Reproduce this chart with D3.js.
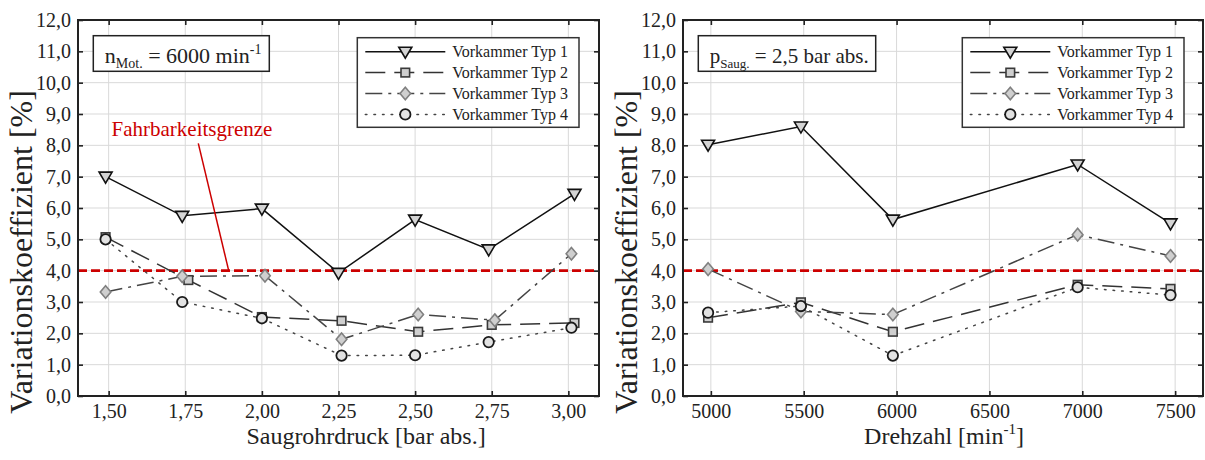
<!DOCTYPE html>
<html>
<head>
<meta charset="utf-8">
<script src="https://cdn.jsdelivr.net/npm/d3@7"></script>
<style>
  html, body { margin: 0; padding: 0; background: #fff; }
  svg { display: block; }
  text { font-family: "Liberation Serif", "Times New Roman", serif; fill: #222; }
</style>
</head>
<body>
<svg id="chart" width="1205" height="460"></svg>
<script>
// ---- data --------------------------------------------------------------
const seriesNames = ["Vorkammer Typ 1", "Vorkammer Typ 2", "Vorkammer Typ 3", "Vorkammer Typ 4"];

// Left panel: intake manifold pressure sweep at 6000 min^-1
const pressureTicks = [1.50, 1.75, 2.00, 2.25, 2.50, 2.75, 3.00];
const pressureTyp1 = [1.49, 1.74, 2.00, 2.25, 2.50, 2.74, 3.02];
const pressureTyp2 = [1.49, 1.76, 2.00, 2.26, 2.51, 2.75, 3.02];
const pressureTyp3 = [1.49, 1.74, 2.01, 2.26, 2.51, 2.76, 3.01];
const pressureTyp4 = [1.49, 1.74, 2.00, 2.26, 2.50, 2.74, 3.01];
const covPressureTyp1 = [7.00, 5.75, 5.98, 3.93, 5.63, 4.68, 6.45];
const covPressureTyp2 = [5.07, 3.70, 2.52, 2.40, 2.05, 2.27, 2.33];
const covPressureTyp3 = [3.32, 3.82, 3.84, 1.81, 2.60, 2.42, 4.54];
const covPressureTyp4 = [5.00, 3.00, 2.48, 1.29, 1.30, 1.72, 2.18];

// Right panel: engine speed sweep at 2,5 bar abs.
const speedTicks = [5000, 5500, 6000, 6500, 7000, 7500];
const speedPoints = [4985, 5485, 5980, 6975, 7475];
const covSpeedTyp1 = [8.02, 8.60, 5.63, 7.39, 5.51];
const covSpeedTyp2 = [2.50, 2.99, 2.05, 3.55, 3.42];
const covSpeedTyp3 = [4.05, 2.70, 2.60, 5.15, 4.47];
const covSpeedTyp4 = [2.66, 2.87, 1.29, 3.47, 3.22];

const covTicks = [0, 1, 2, 3, 4, 5, 6, 7, 8, 9, 10, 11, 12];
const drivabilityLimit = 4.0;

// ---- styles -------------------------------------------------------------
const styles = [
  { stroke: "#111", dash: null,        marker: "triangle" },
  { stroke: "#333", dash: "20,9",      marker: "square" },
  { stroke: "#444", dash: "17,6,3,6",  marker: "diamond" },
  { stroke: "#444", dash: "1.6,7",     marker: "circle" }
];

const svg = d3.select("#chart");
const comma = s => s.replace(".", ",");
const serif = '"Liberation Serif", "Times New Roman", serif';

function drawMarker(g, type, x, y) {
  if (type === "triangle") {
    g.append("path")
      .attr("d", `M${x - 6.5},${y - 4.5} L${x + 6.5},${y - 4.5} L${x},${y + 6.5} Z`)
      .attr("fill", "#d4d4d4").attr("stroke", "#111").attr("stroke-width", 1.6)
      .attr("stroke-linejoin", "miter");
  } else if (type === "square") {
    g.append("rect")
      .attr("x", x - 4.3).attr("y", y - 4.3).attr("width", 8.6).attr("height", 8.6)
      .attr("fill", "#cfcfcf").attr("stroke", "#3a3a3a").attr("stroke-width", 1.6);
  } else if (type === "diamond") {
    g.append("path")
      .attr("d", `M${x},${y - 6.3} L${x + 5.3},${y} L${x},${y + 6.3} L${x - 5.3},${y} Z`)
      .attr("fill", "#cfcfcf").attr("stroke", "#808080").attr("stroke-width", 1.6);
  } else {
    g.append("circle")
      .attr("cx", x).attr("cy", y).attr("r", 5.2)
      .attr("fill", "#e2e2e2").attr("stroke", "#1a1a1a").attr("stroke-width", 1.8);
  }
}

function drawPanel(cfg) {
  const x = d3.scaleLinear().domain(cfg.xDomain).range([cfg.left, cfg.right]);
  const y = d3.scaleLinear().domain([0, 12]).range([cfg.bottom, cfg.top]);
  const g = svg.append("g");

  // grid
  const grid = g.append("g").attr("stroke", "#d9d9d9").attr("stroke-width", 1);
  cfg.xTicks.forEach(t => grid.append("line")
    .attr("x1", x(t)).attr("x2", x(t)).attr("y1", cfg.top).attr("y2", cfg.bottom));
  covTicks.forEach(t => grid.append("line")
    .attr("x1", cfg.left).attr("x2", cfg.right).attr("y1", y(t)).attr("y2", y(t)));

  // axes (ticks pointing inward)
  const axB = g.append("g").attr("transform", `translate(0,${cfg.bottom})`)
    .call(d3.axisBottom(x).tickValues(cfg.xTicks).tickSize(-5).tickPadding(8).tickFormat(cfg.xFormat));
  const axT = g.append("g").attr("transform", `translate(0,${cfg.top})`)
    .call(d3.axisTop(x).tickValues(cfg.xTicks).tickSize(-5).tickFormat(""));
  const axL = g.append("g").attr("transform", `translate(${cfg.left},0)`)
    .call(d3.axisLeft(y).tickValues(covTicks).tickSize(-5).tickPadding(7).tickFormat(d => comma(d3.format(".1f")(d))));
  const axR = g.append("g").attr("transform", `translate(${cfg.right},0)`)
    .call(d3.axisRight(y).tickValues(covTicks).tickSize(-5).tickFormat(""));
  [axB, axT, axL, axR].forEach(a => {
    a.attr("font-family", serif);
    a.select(".domain").remove();
    a.selectAll(".tick line").attr("stroke", "#222").attr("stroke-width", 1.6);
    a.selectAll("text").attr("font-size", 20).attr("fill", "#222").style("font-family", serif);
  });
  axB.selectAll("text").attr("dy", "0.71em");

  // drivability limit
  g.append("line")
    .attr("x1", cfg.left).attr("x2", cfg.right)
    .attr("y1", y(drivabilityLimit)).attr("y2", y(drivabilityLimit))
    .attr("stroke", "#cc0000").attr("stroke-width", 2.6).attr("stroke-dasharray", "9,4");

  // series lines
  cfg.series.forEach((s, i) => {
    const pts = s.x.map((d, k) => [x(d), y(s.v[k])]);
    g.append("path")
      .attr("d", d3.line()(pts))
      .attr("fill", "none").attr("stroke", styles[i].stroke).attr("stroke-width", 1.5)
      .attr("stroke-dasharray", styles[i].dash)
      .attr("stroke-linecap", i === 3 ? "round" : "butt");
  });
  // series markers
  cfg.series.forEach((s, i) => {
    const mg = g.append("g");
    s.x.forEach((d, k) => drawMarker(mg, styles[i].marker, x(d), y(s.v[k])));
  });

  // frame
  g.append("rect")
    .attr("x", cfg.left).attr("y", cfg.top)
    .attr("width", cfg.right - cfg.left).attr("height", cfg.bottom - cfg.top)
    .attr("fill", "none").attr("stroke", "#222").attr("stroke-width", 2);

  // condition box
  g.append("rect")
    .attr("x", cfg.left + cfg.boxDx).attr("y", 35.7).attr("width", cfg.boxW).attr("height", 35.6)
    .attr("fill", "#fff").attr("stroke", "#222").attr("stroke-width", 1.5);
  const bt = g.append("text").attr("x", cfg.left + cfg.boxDx + 11.5).attr("y", 62.5).attr("font-size", cfg.boxFont);
  cfg.boxText(bt);

  // legend
  const lx = cfg.legendX, ly = 37.7;
  g.append("rect").attr("x", lx).attr("y", ly).attr("width", 221.7).attr("height", 89.6)
    .attr("fill", "#fff").attr("stroke", "#333").attr("stroke-width", 1.5);
  seriesNames.forEach((name, i) => {
    const ry = ly + 14 + i * 20.9;
    g.append("line").attr("x1", lx + 8).attr("x2", lx + 88).attr("y1", ry).attr("y2", ry)
      .attr("stroke", styles[i].stroke).attr("stroke-width", 1.5)
      .attr("stroke-dasharray", styles[i].dash)
      .attr("stroke-linecap", i === 3 ? "round" : "butt");
    drawMarker(g, styles[i].marker, lx + 48, ry);
    g.append("text").attr("x", lx + 95).attr("y", ry + 5.5).attr("font-size", 16).text(name);
  });

  // axis titles
  const xt = g.append("text").attr("x", cfg.xTitleX).attr("y", 444)
    .attr("text-anchor", "middle").attr("font-size", 24);
  cfg.xTitle(xt);
  g.append("text")
    .attr("transform", `translate(${cfg.left - 46},252) rotate(-90)`)
    .attr("text-anchor", "middle").attr("font-size", 32)
    .text("Variationskoeffizient [%]");

  return { x, y, g };
}

// left panel
const left = drawPanel({
  left: 78, right: 599, top: 20, bottom: 396,
  xDomain: [1.4, 3.1], xTicks: pressureTicks,
  xFormat: d => comma(d3.format(".2f")(d)),
  series: [
    { x: pressureTyp1, v: covPressureTyp1 },
    { x: pressureTyp2, v: covPressureTyp2 },
    { x: pressureTyp3, v: covPressureTyp3 },
    { x: pressureTyp4, v: covPressureTyp4 }
  ],
  boxDx: 15.3, boxW: 176, boxFont: 22,
  boxText: t => {
    t.append("tspan").text("n");
    t.append("tspan").attr("font-size", 14).attr("dy", 5).text("Mot.");
    t.append("tspan").attr("dy", -5).text(" = 6000 min");
    t.append("tspan").attr("font-size", 14).attr("dy", -9).text("-1");
  },
  legendX: 357.3,
  xTitleX: 366,
  xTitle: t => t.text("Saugrohrdruck [bar abs.]")
});

// drivability limit annotation
left.g.append("line")
  .attr("x1", 198.3).attr("y1", 143.3)
  .attr("x2", 228.7).attr("y2", left.y(drivabilityLimit))
  .attr("stroke", "#cc0000").attr("stroke-width", 1.5);
left.g.append("text")
  .attr("x", 111.5).attr("y", 136).attr("font-size", 21)
  .style("fill", "#cc0000")
  .text("Fahrbarkeitsgrenze");

// right panel
drawPanel({
  left: 683, right: 1203, top: 20, bottom: 396,
  xDomain: [4850, 7650], xTicks: speedTicks,
  xFormat: d => String(d),
  series: [
    { x: speedPoints, v: covSpeedTyp1 },
    { x: speedPoints, v: covSpeedTyp2 },
    { x: speedPoints, v: covSpeedTyp3 },
    { x: speedPoints, v: covSpeedTyp4 }
  ],
  boxDx: 15.3, boxW: 177.4, boxFont: 21,
  boxText: t => {
    t.append("tspan").text("p");
    t.append("tspan").attr("font-size", 13).attr("dy", 5).text("Saug.");
    t.append("tspan").attr("dy", -5).text(" = 2,5 bar abs.");
  },
  legendX: 962.3,
  xTitleX: 944,
  xTitle: t => {
    t.append("tspan").text("Drehzahl [min");
    t.append("tspan").attr("font-size", 15).attr("dy", -10).text("-1");
    t.append("tspan").attr("dy", 10).text("]");
  }
});
</script>
</body>
</html>
